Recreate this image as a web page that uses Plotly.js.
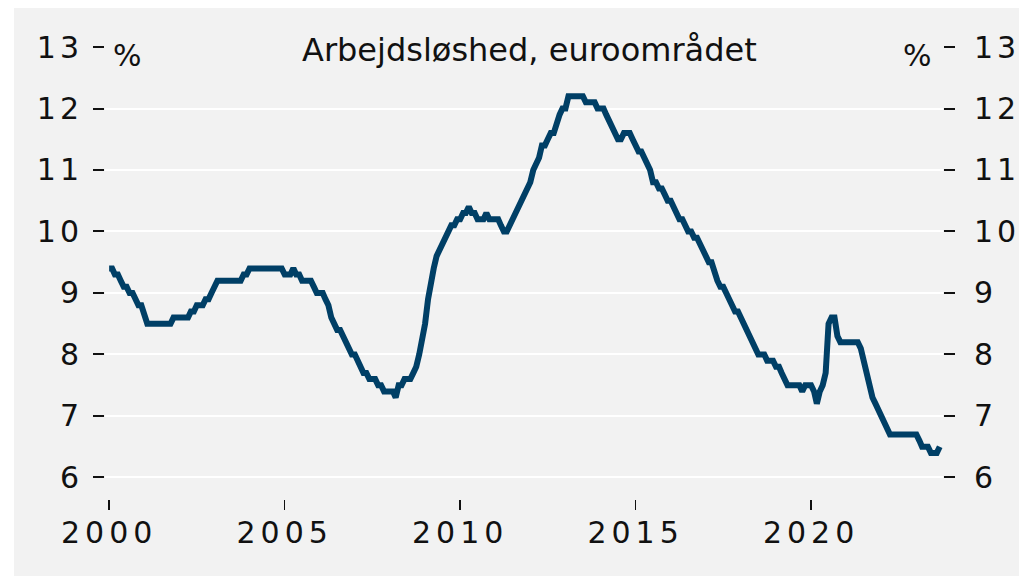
<!DOCTYPE html>
<html>
<head>
<meta charset="utf-8">
<script src="https://cdn.plot.ly/plotly-3.0.1.min.js"></script>
<style>
  html, body { margin: 0; padding: 0; background: #ffffff; }
  #chart { position: absolute; left: 14px; top: 8px; width: 1005px; height: 568px; }
  .xtick text { letter-spacing: 5px; }
  .ytick text, .y2tick text { letter-spacing: 4px; }
</style>
</head>
<body>
<div id="chart"></div>
<script>
// Euro area unemployment rate, monthly, per cent
const startYear = 2000;
const unemployment = [
  /*2000*/ [9.4, 9.4, 9.3, 9.3, 9.2, 9.1, 9.1, 9.0, 9.0, 8.9, 8.8, 8.8],
  /*2001*/ [8.6, 8.5, 8.5, 8.5, 8.5, 8.5, 8.5, 8.5, 8.5, 8.5, 8.6, 8.6],
  /*2002*/ [8.6, 8.6, 8.6, 8.6, 8.7, 8.7, 8.8, 8.8, 8.8, 8.9, 8.9, 9.0],
  /*2003*/ [9.1, 9.2, 9.2, 9.2, 9.2, 9.2, 9.2, 9.2, 9.2, 9.2, 9.3, 9.3],
  /*2004*/ [9.4, 9.4, 9.4, 9.4, 9.4, 9.4, 9.4, 9.4, 9.4, 9.4, 9.4, 9.4],
  /*2005*/ [9.3, 9.3, 9.3, 9.4, 9.3, 9.3, 9.2, 9.2, 9.2, 9.2, 9.1, 9.0],
  /*2006*/ [9.0, 9.0, 8.9, 8.8, 8.6, 8.5, 8.4, 8.4, 8.3, 8.2, 8.1, 8.0],
  /*2007*/ [8.0, 7.9, 7.8, 7.7, 7.7, 7.6, 7.6, 7.6, 7.5, 7.5, 7.4, 7.4],
  /*2008*/ [7.4, 7.4, 7.3, 7.5, 7.5, 7.6, 7.6, 7.6, 7.7, 7.8, 8.0, 8.2],
  /*2009*/ [8.5, 8.9, 9.2, 9.4, 9.6, 9.7, 9.8, 9.9, 10.0, 10.1, 10.1, 10.2],
  /*2010*/ [10.2, 10.3, 10.3, 10.4, 10.3, 10.3, 10.2, 10.2, 10.2, 10.3, 10.2, 10.2],
  /*2011*/ [10.2, 10.2, 10.1, 10.0, 10.0, 10.1, 10.2, 10.3, 10.4, 10.5, 10.6, 10.7],
  /*2012*/ [10.8, 11.0, 11.1, 11.2, 11.4, 11.4, 11.5, 11.6, 11.6, 11.8, 11.9, 12.0],
  /*2013*/ [12.0, 12.2, 12.2, 12.2, 12.2, 12.2, 12.2, 12.1, 12.1, 12.1, 12.1, 12.0],
  /*2014*/ [12.0, 12.0, 11.9, 11.8, 11.7, 11.6, 11.5, 11.5, 11.6, 11.6, 11.6, 11.5],
  /*2015*/ [11.4, 11.3, 11.3, 11.2, 11.1, 11.0, 10.8, 10.8, 10.7, 10.7, 10.6, 10.5],
  /*2016*/ [10.5, 10.4, 10.3, 10.2, 10.2, 10.1, 10.0, 10.0, 9.9, 9.9, 9.8, 9.7],
  /*2017*/ [9.6, 9.5, 9.5, 9.3, 9.2, 9.1, 9.1, 9.0, 8.9, 8.8, 8.7, 8.7],
  /*2018*/ [8.6, 8.5, 8.4, 8.3, 8.2, 8.1, 8.0, 8.0, 8.0, 7.9, 7.9, 7.9],
  /*2019*/ [7.8, 7.8, 7.7, 7.6, 7.5, 7.5, 7.5, 7.5, 7.5, 7.4, 7.5, 7.5],
  /*2020*/ [7.5, 7.4, 7.2, 7.4, 7.5, 7.7, 8.5, 8.6, 8.6, 8.3, 8.2, 8.2],
  /*2021*/ [8.2, 8.2, 8.2, 8.2, 8.2, 8.1, 7.9, 7.7, 7.5, 7.3, 7.2, 7.1],
  /*2022*/ [7.0, 6.9, 6.8, 6.7, 6.7, 6.7, 6.7, 6.7, 6.7, 6.7, 6.7, 6.7],
  /*2023*/ [6.7, 6.6, 6.5, 6.5, 6.5, 6.4, 6.4, 6.4, 6.5]
];
const xTickYears = ['2000', '2005', '2010', '2015', '2020'];
const yTicks = [6, 7, 8, 9, 10, 11, 12, 13];
const chartTitle = 'Arbejdsløshed, euroområdet';
const unitLabel = '%';

const dates = [];
const values = [];
unemployment.forEach((row, i) => {
  row.forEach((v, m) => {
    const mm = String(m + 1).padStart(2, '0');
    dates.push((startYear + i) + '-' + mm + '-01');
    values.push(v);
  });
});

const font = 'DejaVu Sans, sans-serif';
const tickFont = { family: font, size: 30, color: '#111111' };

const trace = {
  x: dates, y: values, type: 'scatter', mode: 'lines',
  line: { color: '#003f66', width: 6, shape: 'linear' },
  hoverinfo: 'skip', showlegend: false
};

const yBase = {
  range: [5.65, 13],
  tickvals: yTicks,
  ticktext: yTicks.map(String),
  ticks: 'outside', ticklen: 11, tickwidth: 2, tickcolor: '#111111',
  showline: false, zeroline: false,
  tickfont: tickFont, fixedrange: true
};

const layout = {
  width: 1005, height: 568,
  margin: { l: 91, r: 76, t: 39, b: 77 },
  paper_bgcolor: '#f2f2f2', plot_bgcolor: '#f2f2f2',
  showlegend: false,
  xaxis: {
    type: 'date',
    range: ['1999-11-19', '2023-10-05'],
    tickvals: xTickYears.map(y => y + '-01-01'),
    ticktext: xTickYears,
    ticks: 'outside', ticklen: 10, tickwidth: 1.5, tickcolor: '#111111',
    showgrid: false, showline: false, zeroline: false,
    tickfont: tickFont, ticklabelstandoff: -3
  },
  yaxis: Object.assign({}, yBase, {
    side: 'left', showgrid: true, gridcolor: '#ffffff', gridwidth: 2,
    ticklabelstandoff: 4
  }),
  yaxis2: Object.assign({}, yBase, {
    side: 'right', overlaying: 'y', showgrid: false, ticklabelstandoff: 13
  }),
  annotations: [
    { text: chartTitle, xref: 'paper', yref: 'paper', x: 0.507, y: 0.993,
      xanchor: 'center', yanchor: 'middle', showarrow: false,
      font: { family: font, size: 32, color: '#111111' } },
    { text: unitLabel, xref: 'paper', yref: 'paper', x: 0.0274, y: 0.982,
      xanchor: 'center', yanchor: 'middle', showarrow: false,
      font: { family: font, size: 30, color: '#111111' } },
    { text: unitLabel, xref: 'paper', yref: 'paper', x: 0.969, y: 0.982,
      xanchor: 'center', yanchor: 'middle', showarrow: false,
      font: { family: font, size: 30, color: '#111111' } }
  ]
};

const trace2 = { x: [dates[0]], y: [null], yaxis: 'y2', type: 'scatter', mode: 'lines',
  hoverinfo: 'skip', showlegend: false };

Plotly.newPlot('chart', [trace, trace2], layout, { staticPlot: true, displayModeBar: false });
</script>
</body>
</html>
